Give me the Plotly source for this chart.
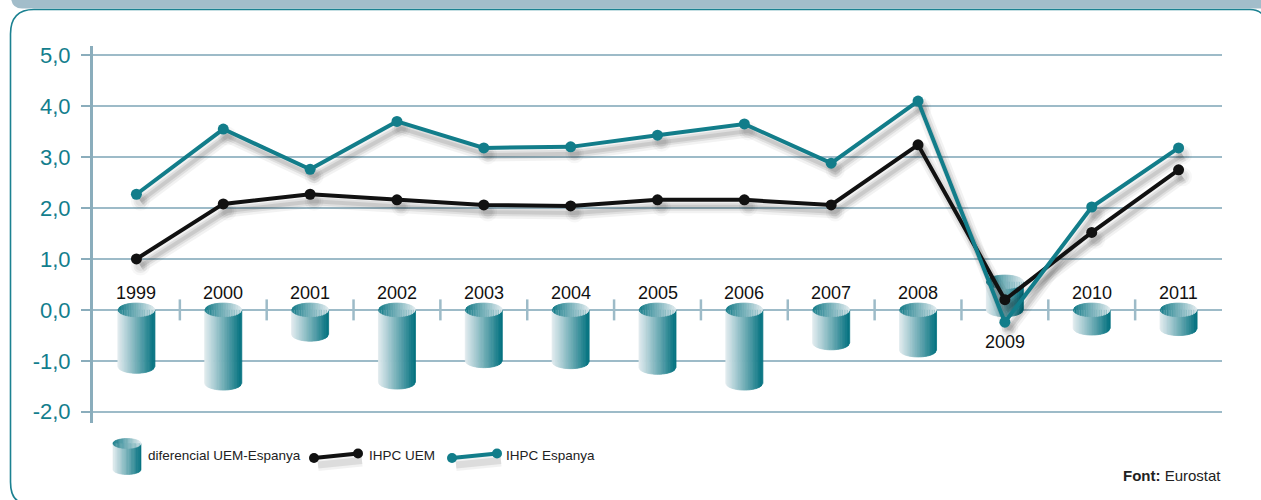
import numpy as np
import plotly.graph_objects as go

# ---------------- data ----------------
years = ["1999", "2000", "2001", "2002", "2003", "2004", "2005",
         "2006", "2007", "2008", "2009", "2010", "2011"]
ihpc_uem = [1.0, 2.08, 2.27, 2.16, 2.06, 2.04, 2.16, 2.16, 2.06, 3.24, 0.2, 1.52, 2.75]
ihpc_esp = [2.27, 3.55, 2.76, 3.7, 3.18, 3.2, 3.43, 3.65, 2.88, 4.1, -0.24, 2.02, 3.18]
diferencial = [-1.11, -1.44, -0.48, -1.42, -1.0, -1.02, -1.13, -1.44, -0.65, -0.79, 0.55, -0.36, -0.37]
y_tickvals = [-2, -1, 0, 1, 2, 3, 4, 5]
y_ticktext = ["-2,0", "-1,0", "0,0", "1,0", "2,0", "3,0", "4,0", "5,0"]
legend_labels = ["diferencial UEM-Espanya", "IHPC UEM", "IHPC Espanya"]

# ---------------- style ----------------
W, H = 1261, 500
L, R, T, B = 93, 1222, 46, 423
YR = [-2.22, 5.18]
XR = [-0.5, 12.5]
TEAL = "#127d8a"
LABEL_TEAL = "#137e8d"
BLACK = "#111111"
GRID = "#9dbbc8"
AXIS = "#8aadbc"
FONT = "Liberation Sans, Arial, sans-serif"

x = np.arange(len(years))
ppx = (R - L) / (XR[1] - XR[0])       # pixels per x unit
ppy = (B - T) / (YR[1] - YR[0])       # pixels per y unit
hw = 18.5 / ppx                       # cylinder half width (x units)
ee = 6.8 / ppy                        # ellipse half height (y units)

light = np.array([236, 241, 244])
dark = np.array([8, 116, 130])


def mix(t):
    c = light + (dark - light) * t
    return "rgb(%d,%d,%d)" % tuple(int(round(v)) for v in c)


def body_col(t):
    return mix(min(1.0, 0.04 + t ** 1.05))


def ell_col(t):
    return mix(0.92 * (1 - t) ** 1.0 + 0.05)


NS = 22
fig = go.Figure()

# ---- cylinders (body strips + top ellipse strips) ----
edges = np.linspace(-1, 1, NS + 1)
for k in range(NS):
    ua, ub = edges[k], edges[k + 1]
    us = np.linspace(ua, ub, 4)
    s = np.sqrt(np.clip(1 - us ** 2, 0, 1))
    tpos = (k + 0.5) / NS
    bx, by, ex, ey = [], [], [], []
    for xi, v in zip(x, diferencial):
        top, bot = max(0, v), min(0, v)
        xs = xi + us * hw
        # body
        bx += [xs[0], xs[-1]] + list(xs[::-1]) + [xs[0], None]
        by += [top, top] + list((bot - ee * s)[::-1]) + [top, None]
        # top ellipse
        ex += list(xs) + list(xs[::-1]) + [xs[0], None]
        ey += list(top + ee * s) + list((top - ee * s)[::-1]) + [top + ee * s[0], None]
    cb = body_col(tpos)
    ce = ell_col(tpos)
    fig.add_trace(go.Scatter(x=bx, y=by, mode="lines", fill="toself", fillcolor=cb,
                             line=dict(color=cb, width=0.8), hoverinfo="skip", showlegend=False))
    fig.add_trace(go.Scatter(x=ex, y=ey, mode="lines", fill="toself", fillcolor=ce,
                             line=dict(color=ce, width=0.8), hoverinfo="skip", showlegend=False))

# ---- small ticks on the zero line between categories ----
fig.add_trace(go.Scatter(x=x[:-1] + 0.5, y=[0] * (len(x) - 1), mode="markers",
                         marker=dict(symbol="line-ns", size=15, line=dict(color=GRID, width=2.5)),
                         hoverinfo="skip", showlegend=False))

# ---- shadows (overlay axes with shifted range) ----
dxs = 4 / ppx
dys = 7 / ppy
for ser in (ihpc_uem, ihpc_esp):
    for wdt, alpha in ((13, 0.05), (8, 0.08), (4, 0.09)):
        fig.add_trace(go.Scatter(x=x, y=ser, mode="lines+markers", xaxis="x2", yaxis="y2",
                                 line=dict(color="rgba(0,0,0,%.2f)" % alpha, width=wdt),
                                 marker=dict(size=wdt + 6, color="rgba(0,0,0,%.2f)" % (alpha * 0.6)),
                                 hoverinfo="skip", showlegend=False))

# ---- lines ----
fig.add_trace(go.Scatter(x=x, y=ihpc_uem, mode="lines+markers", xaxis="x3", yaxis="y3",
                         line=dict(color=BLACK, width=4), marker=dict(size=11, color=BLACK),
                         name=legend_labels[1], showlegend=False))
fig.add_trace(go.Scatter(x=x, y=ihpc_esp, mode="lines+markers", xaxis="x3", yaxis="y3",
                         line=dict(color=TEAL, width=4), marker=dict(size=11, color=TEAL),
                         name=legend_labels[2], showlegend=False))

# ---- year labels ----
annotations = []
for xi, v, yr in zip(x, diferencial, years):
    yy = 0.33 if v < 0 else -0.63
    annotations.append(dict(x=xi, y=yy, xref="x", yref="y", text=yr, showarrow=False,
                            font=dict(family=FONT, size=18, color="#111111"),
                            xanchor="center", yanchor="middle"))


# ---------------- decoration in paper coords ----------------
def pxx(v):
    return (v - L) / (R - L)


def pyy(v):
    return (B - v) / (B - T)


def P(a, b):
    return "%.5f,%.5f" % (pxx(a), pyy(b))


def poly(points):
    s = "M" + P(*points[0])
    for p in points[1:]:
        s += " L" + P(*p)
    return s + " Z"


shapes = []
# top band
shapes.append(dict(type="path", xref="paper", yref="paper", layer="below",
                   path="M" + P(10, -2) + " L" + P(1263, -2) + " L" + P(1263, 8.5) +
                        " L" + P(22, 8.5) + " Q" + P(12, 8.5) + " " + P(11, -2) + " Z",
                   fillcolor="#a2bdca", line=dict(width=0)))
# panel border
shapes.append(dict(type="path", xref="paper", yref="paper", layer="below",
                   path="M" + P(26, 503) + " Q" + P(10.5, 503) + " " + P(10.5, 482) +
                        " L" + P(10.5, 34) + " Q" + P(10.5, 9.5) + " " + P(34, 9.5) +
                        " L" + P(1250, 9.5) + " Q" + P(1259, 9.5) + " " + P(1264, 16),
                   line=dict(color="#1b8191", width=1.6)))

# legend cylinder icon
lc_x0, lc_x1 = 113, 141
lc_top, lc_bot = 443.5, 469.5
lc_e = 5.0
lcx = (lc_x0 + lc_x1) / 2
lhw = (lc_x1 - lc_x0) / 2
for k in range(NS):
    us = np.linspace(edges[k], edges[k + 1], 4)
    s = np.sqrt(np.clip(1 - us ** 2, 0, 1))
    tpos = (k + 0.5) / NS
    xs = lcx + us * lhw
    body = [(xs[0], lc_top), (xs[-1], lc_top)] + \
           [(a, lc_bot + lc_e * b) for a, b in zip(xs[::-1], s[::-1])]
    ell = [(a, lc_top - lc_e * b) for a, b in zip(xs, s)] + \
          [(a, lc_top + lc_e * b) for a, b in zip(xs[::-1], s[::-1])]
    cb = body_col(tpos)
    ce = ell_col(tpos)
    shapes.append(dict(type="path", xref="paper", yref="paper", path=poly(body),
                       fillcolor=cb, line=dict(color=cb, width=0.6)))
    shapes.append(dict(type="path", xref="paper", yref="paper", path=poly(ell),
                       fillcolor=ce, line=dict(color=ce, width=0.6)))


def legend_line(x0, y0, x1, y1, color):
    out = []
    for wdt, alpha in ((12, 0.05), (7, 0.09)):
        out.append(dict(type="line", xref="paper", yref="paper",
                        x0=pxx(x0 + 4), y0=pyy(y0 + 7), x1=pxx(x1 + 4), y1=pyy(y1 + 7),
                        line=dict(color="rgba(0,0,0,%.2f)" % alpha, width=wdt)))
    out.append(dict(type="line", xref="paper", yref="paper",
                    x0=pxx(x0), y0=pyy(y0), x1=pxx(x1), y1=pyy(y1),
                    line=dict(color=color, width=4)))
    for cx, cy in ((x0, y0), (x1, y1)):
        out.append(dict(type="circle", xref="paper", yref="paper",
                        x0=pxx(cx - 5), x1=pxx(cx + 5), y0=pyy(cy + 5), y1=pyy(cy - 5),
                        fillcolor=color, line=dict(width=0)))
    return out


shapes += legend_line(314, 458, 358, 453.5, BLACK)
shapes += legend_line(452, 458, 497, 453.5, TEAL)

LEG_FONT = dict(family=FONT, size=13.5, color="#222222")
annotations.append(dict(x=pxx(146), y=pyy(456), xref="paper", yref="paper", text=legend_labels[0],
                        showarrow=False, xanchor="left", yanchor="middle", font=LEG_FONT))
annotations.append(dict(x=pxx(367), y=pyy(456), xref="paper", yref="paper", text=legend_labels[1],
                        showarrow=False, xanchor="left", yanchor="middle", font=LEG_FONT))
annotations.append(dict(x=pxx(504), y=pyy(456), xref="paper", yref="paper", text=legend_labels[2],
                        showarrow=False, xanchor="left", yanchor="middle", font=LEG_FONT))
annotations.append(dict(x=pxx(1223), y=pyy(475), xref="paper", yref="paper",
                        text="<b>Font:</b> Eurostat", showarrow=False,
                        xanchor="right", yanchor="middle",
                        font=dict(family=FONT, size=15, color="#222222")))

fig.update_layout(
    width=W, height=H,
    margin=dict(l=L, r=W - R, t=T, b=H - B, pad=0),
    paper_bgcolor="white", plot_bgcolor="rgba(0,0,0,0)",
    showlegend=False,
    xaxis=dict(range=XR, visible=False, fixedrange=True),
    yaxis=dict(range=YR, tickvals=y_tickvals, ticktext=y_ticktext, showgrid=True,
               gridcolor=GRID, gridwidth=2, zeroline=False, showline=True,
               linecolor=AXIS, linewidth=3, ticks="outside", ticklen=9, tickwidth=2,
               tickcolor=AXIS, ticklabelstandoff=6,
               tickfont=dict(family=FONT, size=22, color=LABEL_TEAL), fixedrange=True),
    xaxis2=dict(range=[XR[0] - dxs, XR[1] - dxs], overlaying="x", visible=False, anchor="y2"),
    yaxis2=dict(range=[YR[0] + dys, YR[1] + dys], overlaying="y", visible=False, anchor="x2"),
    xaxis3=dict(range=XR, overlaying="x", visible=False, anchor="y3"),
    yaxis3=dict(range=YR, overlaying="y", visible=False, anchor="x3"),
    shapes=shapes,
    annotations=annotations,
)

fig.write_html("out.html")
